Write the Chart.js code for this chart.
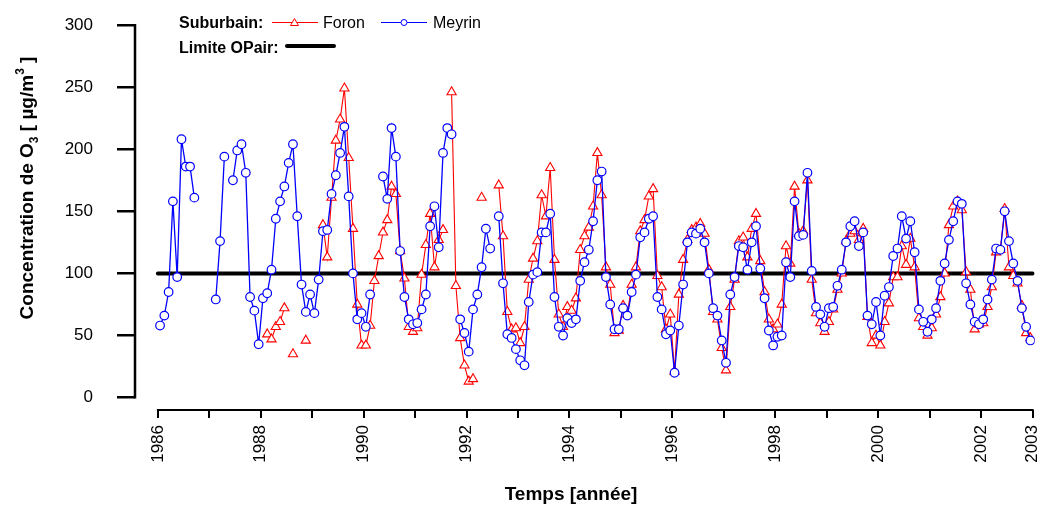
<!DOCTYPE html>
<html>
<head>
<meta charset="utf-8">
<script src="https://cdn.jsdelivr.net/npm/chart.js@4.4.0/dist/chart.umd.min.js"></script>
<style>
  html, body { margin: 0; padding: 0; background: #ffffff; }
  #wrap { width: 1041px; height: 506px; position: relative; }
</style>
</head>
<body>
<div id="wrap"><canvas id="chart" width="1041" height="506"></canvas></div>
<script>
// Monthly mean O3 concentrations, one row of 12 months per year (1986 .. 2002)
const firstYear = 1986;
const lastYear = 2003;
const yTickValues = [0, 50, 100, 150, 200, 250, 300];
const xTickYears = [1986, 1987, 1988, 1989, 1990, 1991, 1992, 1993, 1994, 1995, 1996, 1997, 1998, 1999, 2000, 2001, 2002, 2003];
const xLabelYears = [1986, 1988, 1990, 1992, 1994, 1996, 1998, 2000, 2002, 2003];
const limitValue = 100;
const limitSpan = [1986, 2003];

const meyrin = [
  58, 66, 85, 158, 97, 208, 186, 186, 161, null, null, null,
  null, 79, 126, 194, null, 175, 199, 204, 181, 81, 70, 43,
  80, 84, 103, 144, 158, 170, 189, 204, 146, 91, 69, 83,
  68, 95, 134, 135, 164, 179, 197, 218, 162, 100, 63, 68,
  57, 83, null, null, 178, 160, 217, 194, 118, 81, 63, 59,
  60, 71, 83, 138, 154, 121, 197, 217, 212, null, 63, 52,
  37, 71, 83, 105, 136, 120, null, 146, 92, 51, 48, 39,
  30, 26, 77, 99, 101, 133, 133, 148, 81, 57, 50, 64,
  60, 63, 94, 109, 119, 142, 175, 182, 97, 75, 55, 55,
  72, 66, 85, 99, 129, 133, 144, 146, 81, 71, 51, 54,
  20, 58, 91, 125, 133, 132, 136, 125, 100, 72, 66, 46,
  28, 83, 97, 122, 121, 103, 125, 138, 104, 80, 54, 42,
  49, 50, 109, 97, 158, 130, 131, 181, 102, 73, 67, 57,
  72, 73, 90, 103, 125, 138, 142, 122, 133, 66, 59, 77,
  50, 82, 89, 114, 120, 146, 128, 142, 117, 71, 61, 53,
  63, 72, 94, 108, 127, 142, 158, 156, 92, 75, 61, 59,
  63, 79, 95, 120, 119, 150, 126, 108, 94, 72, 57, 46
];

const foron = [
  null, null, null, null, null, null, null, null, null, null, null, null,
  null, null, null, null, null, null, null, null, null, null, null, null,
  null, 51, 47, 57, 61, 72, null, 35, null, null, 46, null,
  null, null, 139, 113, 161, 207, 224, 249, 193, 136, 75, 42,
  42, 58, 94, 114, 133, 143, 170, 164, 118, 96, 57, 53,
  56, 99, 123, 148, 105, 127, 135, null, 246, 90, 48, 26,
  13, 15, null, 161, null, null, null, 171, 130, 69, 55, 56,
  44, 57, 95, 112, 126, 163, 146, 185, 111, 67, 57, 73,
  70, 80, 119, 130, 137, 154, 197, 163, 105, 91, 52, 54,
  74, 67, 91, 105, 134, 143, 162, 168, 98, 89, 55, 67,
  21, 83, 111, 127, 135, 137, 140, 132, 103, 69, 63, 40,
  22, 73, 95, 126, 129, 113, 136, 148, 110, 85, 63, 55,
  59, 75, 122, 108, 170, 132, 134, 175, 95, 68, 60, 53,
  61, 71, 87, 100, 126, 132, 134, 127, 136, 65, 44, 50,
  42, 61, 76, 97, 97, 122, 107, 128, 105, 64, 57, 50,
  56, 67, 81, 100, 139, 154, 158, 151, 101, 87, 55, 59,
  60, 73, 89, 117, 119, 152, 105, 98, 92, 74, 52, 48
];

const FONT = '"Liberation Sans", Arial, Helvetica, sans-serif';
const RED = '#ff0000';
const BLUE = '#0000ff';

// each monthly value sits in the middle of its month on the time axis
const monthPoints = (values) => values.map((v, i) => ({ x: firstYear + (i + 0.5) / 12, y: v }));

// axis lines span only the data range (0..300 and 1986..2003), detached at the corner
const axisLines = {
  id: 'axisLines',
  beforeDatasetsDraw(chart) {
    const { ctx, chartArea, scales } = chart;
    const x = scales.x, y = scales.y;
    ctx.save();
    ctx.strokeStyle = '#000';
    ctx.lineWidth = 2.5;
    ctx.beginPath();
    ctx.moveTo(chartArea.left, y.getPixelForValue(yTickValues[0]) + 1);
    ctx.lineTo(chartArea.left, y.getPixelForValue(yTickValues[yTickValues.length - 1]) - 1);
    ctx.stroke();
    ctx.lineWidth = 2;
    ctx.beginPath();
    ctx.moveTo(x.getPixelForValue(firstYear) - 1, chartArea.bottom);
    ctx.lineTo(x.getPixelForValue(lastYear) + 1, chartArea.bottom);
    ctx.stroke();
    ctx.restore();
  }
};

// axis titles and the two-row legend
const annotations = {
  id: 'annotations',
  afterDraw(chart) {
    const { ctx } = chart;
    ctx.save();
    ctx.fillStyle = '#000';
    ctx.textBaseline = 'alphabetic';

    // y title with subscript / superscript, rotated
    const big = 'bold 19px ' + FONT;
    const small = 'bold 12px ' + FONT;
    const parts = [
      { t: 'Concentration de O', f: big, dy: 0 },
      { t: '3', f: small, dy: 5 },
      { t: ' [ \u00b5g/m', f: big, dy: 0 },
      { t: '3', f: small, dy: -9 },
      { t: ' ]', f: big, dy: 0 }
    ];
    let total = 0;
    parts.forEach(p => { ctx.font = p.f; p.w = ctx.measureText(p.t).width; total += p.w; });
    ctx.translate(33, 188);
    ctx.rotate(-Math.PI / 2);
    let cx = -total / 2;
    parts.forEach(p => { ctx.font = p.f; ctx.textAlign = 'left'; ctx.fillText(p.t, cx, p.dy); cx += p.w; });
    ctx.setTransform(1, 0, 0, 1, 0, 0);

    // x title
    ctx.font = 'bold 19px ' + FONT;
    ctx.textAlign = 'center';
    ctx.fillText('Temps [ann\u00e9e]', 571, 500);

    // legend row 1
    ctx.textAlign = 'left';
    ctx.font = 'bold 16px ' + FONT;
    ctx.fillText('Suburbain:', 179, 28);
    ctx.font = '16px ' + FONT;
    ctx.lineWidth = 1;
    ctx.strokeStyle = RED;
    ctx.beginPath(); ctx.moveTo(272, 22.5); ctx.lineTo(318, 22.5); ctx.stroke();
    ctx.fillStyle = '#fff';
    ctx.beginPath(); ctx.moveTo(294.5, 18.5); ctx.lineTo(298.5, 25.5); ctx.lineTo(290.5, 25.5); ctx.closePath();
    ctx.fill(); ctx.stroke();
    ctx.fillStyle = '#000';
    ctx.fillText('Foron', 323, 28);
    ctx.strokeStyle = BLUE;
    ctx.beginPath(); ctx.moveTo(381, 22.5); ctx.lineTo(427, 22.5); ctx.stroke();
    ctx.fillStyle = '#fff';
    ctx.beginPath(); ctx.arc(404, 22.5, 3, 0, Math.PI * 2); ctx.fill(); ctx.stroke();
    ctx.fillStyle = '#000';
    ctx.fillText('Meyrin', 433, 28);

    // legend row 2
    ctx.font = 'bold 16px ' + FONT;
    ctx.fillText('Limite OPair:', 179, 53);
    ctx.strokeStyle = '#000';
    ctx.lineWidth = 4;
    ctx.lineCap = 'round';
    ctx.beginPath(); ctx.moveTo(287, 46); ctx.lineTo(334, 46); ctx.stroke();
    ctx.restore();
  }
};

new Chart(document.getElementById('chart'), {
  type: 'line',
  data: {
    datasets: [
      {
        label: 'Meyrin',
        data: monthPoints(meyrin),
        borderColor: BLUE,
        borderWidth: 1.3,
        pointStyle: 'circle',
        pointRadius: 4.3,
        pointBorderWidth: 1.2,
        pointBackgroundColor: '#ffffff',
        pointBorderColor: BLUE,
        spanGaps: false,
        tension: 0,
        order: 1
      },
      {
        label: 'Foron',
        data: monthPoints(foron),
        borderColor: RED,
        borderWidth: 1.1,
        pointStyle: 'triangle',
        pointRadius: 5.3,
        pointBorderWidth: 1.1,
        pointBackgroundColor: '#ffffff',
        pointBorderColor: RED,
        spanGaps: false,
        tension: 0,
        order: 2
      },
      {
        label: 'Limite OPair',
        data: limitSpan.map(x => ({ x: x, y: limitValue })),
        borderColor: '#000000',
        borderWidth: 4,
        borderCapStyle: 'round',
        pointRadius: 0,
        order: 3
      }
    ]
  },
  options: {
    responsive: false,
    animation: false,
    devicePixelRatio: 1,
    layout: { padding: { top: 25, right: 2, left: 0, bottom: 0 } },
    plugins: { legend: { display: false }, tooltip: { enabled: false } },
    scales: {
      x: {
        type: 'linear',
        min: 1985.555,
        max: 2003.04,
        afterBuildTicks: (s) => { s.ticks = xTickYears.map(v => ({ value: v })); },
        afterFit: (s) => { s.height = 96; s.paddingLeft = 0; s.paddingRight = 0; },
        ticks: {
          autoSkip: false,
          minRotation: 90,
          maxRotation: 90,
          padding: 7,
          color: '#000',
          font: { family: FONT, size: 17 },
          callback: (v) => xLabelYears.includes(v) ? String(v) : ''
        },
        grid: { display: true, drawOnChartArea: false, drawTicks: true, tickLength: 8, color: '#000', lineWidth: 2 },
        border: { display: false }
      },
      y: {
        type: 'linear',
        min: -10,
        max: 300,
        afterBuildTicks: (s) => { s.ticks = yTickValues.map(v => ({ value: v })); },
        afterFit: (s) => { s.width = 135; s.paddingTop = 0; s.paddingBottom = 0; },
        ticks: {
          padding: 24,
          color: '#000',
          font: { family: FONT, size: 17 }
        },
        grid: { display: true, drawOnChartArea: false, drawTicks: true, tickLength: 18, color: '#000', lineWidth: 2.5 },
        border: { display: false }
      }
    }
  },
  plugins: [axisLines, annotations]
});
</script>
</body>
</html>
